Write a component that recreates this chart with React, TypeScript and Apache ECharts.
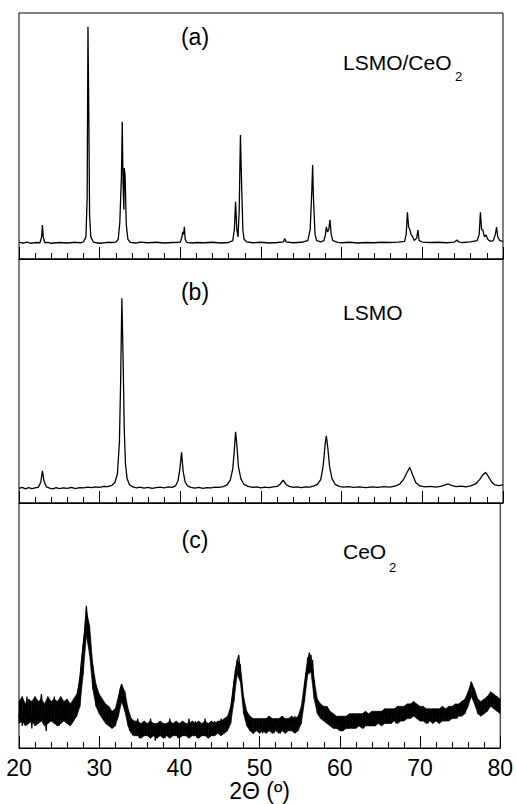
import React, { useEffect, useRef } from "react";
import * as echarts from "echarts";

// Panel (a) LSMO/CeO2 : [2θ, intensity]
const patternA: [number, number][] = [
  [20, 6.8], [20.5, 6.5], [21, 6.9], [21.5, 6.4], [22, 6.7], [22.6, 6.6], [22.8, 9], [22.9, 13.8], [23.0, 9], [23.2, 6.6],
  [23.6, 6.8], [24, 6.4], [25, 6.7], [26, 6.5], [27, 6.8], [27.6, 6.6], [28.0, 7], [28.3, 9], [28.45, 25], [28.55, 94.4],
  [28.65, 60], [28.75, 18], [28.9, 9], [29.2, 7], [29.6, 6.6], [30, 6.4], [31, 6.8], [31.5, 6.7], [32, 6.9], [32.3, 8],
  [32.5, 15], [32.7, 34], [32.8, 55.8], [32.9, 30], [33.0, 20], [33.05, 37], [33.15, 34], [33.3, 14], [33.5, 8], [33.8, 6.8],
  [34.5, 6.5], [35, 6.9], [36, 6.6], [37, 6.8], [38, 6.5], [39, 6.7], [40, 6.8], [40.2, 9], [40.3, 11], [40.4, 10],
  [40.5, 13.1], [40.6, 8], [40.8, 6.8], [41.5, 6.5], [42, 6.7], [43, 6.6], [44, 6.8], [45, 6.5], [46, 6.7], [46.5, 7.5],
  [46.7, 12], [46.85, 23.3], [47.0, 12], [47.15, 9], [47.3, 20], [47.45, 50.4], [47.6, 30], [47.75, 12], [47.9, 8], [48.2, 7],
  [49, 6.6], [50, 6.8], [51, 6.5], [52, 6.7], [52.8, 7], [52.95, 8.3], [53.1, 7], [54, 6.6], [55, 6.8], [55.8, 7.5],
  [56.1, 12], [56.3, 28], [56.4, 38.2], [56.5, 25], [56.7, 10], [56.9, 7.5], [57.4, 7], [57.8, 7.5], [58.0, 10], [58.1, 13.1],
  [58.25, 11], [58.4, 12], [58.55, 15.9], [58.7, 10], [58.9, 7.5], [59.5, 6.8], [60, 6.6], [61, 6.8], [62, 6.5], [63, 6.7],
  [64, 6.6], [65, 6.8], [66, 6.7], [67, 6.9], [67.8, 7.2], [68.0, 10], [68.15, 19], [68.3, 13], [68.45, 12], [68.6, 10],
  [68.8, 9], [69.0, 7.5], [69.3, 8.5], [69.45, 11.8], [69.6, 7.5], [70, 6.9], [71, 6.7], [72, 6.8], [73, 6.6], [74, 6.9],
  [74.3, 7.7], [74.5, 7], [75, 6.7], [76, 7], [76.8, 7.5], [77.05, 10], [77.2, 19], [77.35, 12], [77.5, 11.8], [77.7, 9],
  [77.9, 9.8], [78.1, 8], [78.4, 7.2], [78.8, 7.5], [79.05, 10], [79.2, 13], [79.35, 9], [79.6, 7.5], [80, 7.2],
];

// Panel (b) LSMO : [2θ, intensity]
const patternB: [number, number][] = [
  [20, 6], [20.4, 6.4], [20.8, 5.8], [21.2, 6.3], [21.6, 5.9], [22.0, 6.2], [22.4, 6.5], [22.7, 8.5], [22.9, 13.2], [23.1, 9],
  [23.4, 6.6], [23.8, 6.1], [24.2, 5.8], [24.6, 6.3], [25, 5.9], [25.5, 6.2], [26, 6], [26.5, 6.4], [27, 5.9], [27.5, 6.3],
  [28, 6.2], [28.5, 6.5], [29, 6.3], [29.5, 6.6], [30, 6.4], [30.5, 6.8], [31, 6.7], [31.5, 7.2], [31.9, 8.5], [32.2, 12],
  [32.45, 25], [32.6, 50], [32.75, 83.9], [32.9, 60], [33.05, 30], [33.2, 16], [33.4, 10], [33.7, 7.5], [34.1, 6.6], [34.6, 6.2],
  [35, 6.5], [35.5, 6.1], [36, 6.4], [36.5, 6], [37, 6.3], [37.5, 6.5], [38, 6.2], [38.5, 6.6], [39, 6.4], [39.4, 7],
  [39.7, 9], [39.95, 14], [40.15, 20.8], [40.35, 13], [40.6, 8.5], [40.9, 7], [41.3, 6.4], [41.8, 6.1], [42.3, 6.4], [42.8, 6],
  [43.3, 6.3], [43.8, 6.2], [44.3, 6.5], [44.8, 6.4], [45.3, 6.7], [45.8, 7.4], [46.2, 9.5], [46.5, 14], [46.7, 22], [46.85, 29.2],
  [47.0, 24], [47.2, 15], [47.5, 10], [47.9, 7.6], [48.4, 6.8], [49, 6.4], [49.5, 6.6], [50, 6.2], [50.5, 6.5], [51, 6.3],
  [51.5, 6.6], [52, 6.8], [52.4, 7.8], [52.75, 9.4], [53.1, 7.6], [53.5, 6.8], [54, 6.4], [54.5, 6.6], [55, 6.3], [55.5, 6.6],
  [56, 6.5], [56.5, 6.9], [57, 7.6], [57.4, 9.6], [57.7, 15], [57.95, 24], [58.1, 27.5], [58.3, 22], [58.5, 15], [58.8, 10],
  [59.2, 7.6], [59.7, 6.8], [60.2, 6.5], [60.8, 6.7], [61.5, 6.4], [62.2, 6.6], [63, 6.3], [63.8, 6.6], [64.5, 6.4], [65.2, 6.7],
  [66, 6.5], [66.7, 7], [67.2, 7.8], [67.7, 9.8], [68.1, 12.5], [68.45, 14.6], [68.8, 11.5], [69.2, 8.3], [69.7, 7], [70.3, 6.6],
  [71, 6.8], [71.7, 6.5], [72.4, 6.9], [72.9, 7.5], [73.2, 7.8], [73.6, 7.2], [74.2, 6.7], [74.8, 6.9], [75.4, 6.6], [76, 7],
  [76.6, 7.8], [77.1, 9.6], [77.5, 11.5], [77.85, 12.6], [78.2, 10.8], [78.6, 8.5], [79, 7.4], [79.5, 7.1], [80, 7.4],
];

// Panel (c) CeO2 : noisy trace, intensities from 20° to 80° every 0.2°
const cStart = 20;
const cStep = 0.2;
const cIntensity: number[] = [
  12, 19, 9, 17, 14, 21, 11, 16, 8, 18,
  13, 20, 10, 17, 22, 12, 15, 7, 19, 14,
  18, 11, 21, 13, 16, 9, 20, 12, 17, 14,
  19, 11, 16, 10, 18, 13, 18, 24, 29, 36,
  42, 48, 58, 49, 46, 37, 33, 26, 25, 20,
  22, 17, 19, 14, 17, 12, 15, 10, 14, 9,
  15, 12, 20, 24, 26, 22, 19, 14, 12, 7,
  11, 5, 10, 6, 12, 4, 9, 7, 11, 5,
  9, 6, 12, 5, 10, 3, 9, 7, 11, 5,
  8, 4, 10, 6, 12, 5, 9, 6, 11, 4,
  9, 6, 11, 5, 10, 7, 12, 5, 9, 6,
  11, 4, 10, 7, 9, 5, 12, 6, 10, 7,
  9, 5, 11, 7, 10, 6, 12, 8, 11, 9,
  13, 10, 16, 21, 27, 32, 35, 38, 31, 25,
  18, 15, 11, 13, 8, 11, 6, 10, 7, 12,
  8, 11, 6, 12, 9, 7, 13, 8, 10, 6,
  12, 8, 11, 6, 13, 9, 10, 7, 12, 8,
  11, 7, 13, 9, 12, 10, 14, 18, 24, 30,
  34, 39, 32, 36, 26, 21, 18, 15, 17, 14,
  17, 12, 16, 11, 14, 10, 13, 9, 12, 8,
  12, 7, 11, 9, 13, 8, 12, 10, 14, 9,
  13, 9, 14, 10, 12, 8, 14, 10, 13, 11,
  14, 9, 13, 11, 15, 10, 14, 12, 16, 10,
  14, 11, 16, 12, 15, 10, 17, 12, 15, 13,
  17, 12, 16, 14, 18, 13, 19, 14, 17, 12,
  15, 11, 16, 12, 14, 10, 15, 11, 16, 12,
  15, 11, 14, 12, 16, 11, 15, 13, 16, 12,
  15, 13, 17, 12, 16, 14, 18, 15, 19, 17,
  21, 24, 27, 23, 20, 18, 16, 19, 15, 17,
  16, 19, 21, 18, 22, 20, 19, 21, 17, 18, 16,
];

// Panel (c) dense noise band: lower / upper edge every 0.4°
const bandStart = 20;
const bandStep = 0.4;
const cBandLow: number[] = [
  10, 11, 9, 10, 11, 9, 10, 11, 9, 10,
  11, 10, 9, 10, 11, 10, 9, 11, 13, 17,
  30, 46, 38, 24, 17, 14, 12, 10, 9, 8,
  9, 13, 19, 15, 9, 6, 5, 5, 4, 5,
  5, 4, 5, 4, 5, 4, 5, 4, 5, 5,
  4, 5, 5, 4, 5, 5, 4, 5, 5, 4,
  5, 5, 6, 5, 6, 7, 10, 19, 30, 27,
  14, 9, 7, 6, 7, 6, 7, 6, 7, 6,
  7, 6, 7, 6, 7, 7, 6, 7, 10, 19,
  30, 31, 20, 14, 12, 11, 10, 9, 8, 8,
  7, 7, 8, 8, 8, 8, 9, 8, 9, 9,
  9, 9, 10, 9, 10, 10, 10, 11, 10, 11,
  11, 12, 12, 13, 12, 11, 11, 10, 11, 10,
  11, 10, 11, 11, 11, 12, 12, 13, 13, 14,
  17, 21, 18, 14, 13, 14, 15, 17, 16, 15, 14,
];
const cBandHigh: number[] = [
  19, 21, 18, 20, 19, 21, 19, 20, 18, 21,
  19, 20, 19, 21, 19, 20, 18, 20, 22, 28,
  42, 56, 50, 34, 26, 22, 20, 18, 17, 15,
  16, 21, 26, 23, 16, 12, 11, 11, 10, 11,
  10, 11, 10, 10, 11, 10, 10, 11, 10, 11,
  10, 11, 10, 10, 11, 10, 11, 10, 11, 10,
  11, 10, 11, 11, 12, 13, 17, 27, 36, 34,
  21, 15, 13, 12, 12, 12, 12, 12, 13, 12,
  12, 12, 13, 12, 12, 13, 12, 13, 17, 27,
  37, 38, 28, 20, 18, 17, 17, 15, 14, 13,
  13, 13, 13, 14, 14, 14, 14, 14, 15, 14,
  15, 15, 15, 15, 16, 16, 16, 16, 17, 17,
  17, 18, 18, 19, 18, 17, 17, 16, 16, 16,
  16, 16, 17, 16, 17, 17, 18, 18, 19, 20,
  23, 27, 24, 20, 19, 20, 21, 23, 22, 21, 20,
];

const xTicks = ["20", "30", "40", "50", "60", "70", "80"];
const panelLabels = ["(a)", "(b)", "(c)"];
const sampleNames = ["LSMO/CeO", "LSMO", "CeO"];
const sampleSubs = ["2", "", "2"];
const xTitle = "2Θ (º)";

const FONT = "'Liberation Sans', Arial, Helvetica, sans-serif";

export default function App() {
  const ref = useRef<HTMLDivElement>(null);

  useEffect(() => {
    if (!ref.current) return;
    const chart = echarts.init(ref.current, undefined, { renderer: "svg" });

    const patternC: [number, number][] = cIntensity.map((v, i) => [
      Number((cStart + i * cStep).toFixed(1)),
      v,
    ]);
    const bandX = cBandLow.map((_, j) => Number((bandStart + j * bandStep).toFixed(1)));
    // each segment: [x0, low0, high0, x1, low1, high1]
    const bandSegments: number[][] = [];
    for (let j = 0; j < bandX.length - 1; j++) {
      bandSegments.push([
        bandX[j], cBandLow[j], cBandHigh[j],
        bandX[j + 1], cBandLow[j + 1], cBandHigh[j + 1],
      ]);
    }

    const tops = [13, 259, 503];
    const heights = [246, 244, 245];

    const grids = tops.map((t, i) => ({
      left: 19,
      right: 13,
      top: t,
      height: heights[i],
      show: true,
      borderColor: "#000",
      borderWidth: 1,
      backgroundColor: "transparent",
    }));

    const xAxes = [0, 1, 2].map((i) => ({
      type: "value",
      gridIndex: i,
      min: Number(xTicks[0]),
      max: Number(xTicks[xTicks.length - 1]),
      interval: 10,
      axisLine: { show: true, lineStyle: { color: "#000", width: 1 } },
      axisTick: { show: true, inside: true, length: 12, lineStyle: { color: "#000", width: 1 } },
      minorTick: { show: true, splitNumber: 5, length: 6, lineStyle: { color: "#000", width: 1 } },
      splitLine: { show: false },
      minorSplitLine: { show: false },
      axisLabel: {
        show: i === 2,
        color: "#000",
        fontSize: 23,
        fontFamily: FONT,
        margin: 8,
        formatter: (v: number) => String(v),
      },
      name: i === 2 ? xTitle : "",
      nameLocation: "middle",
      nameGap: 31,
      nameTextStyle: { color: "#000", fontSize: 23, fontFamily: FONT },
    }));

    const yAxes = [0, 1, 2].map((i) => ({
      type: "value",
      gridIndex: i,
      min: 0,
      max: 100,
      show: false,
    }));

    const series: any[] = [
      {
        type: "line",
        xAxisIndex: 0,
        yAxisIndex: 0,
        data: patternA,
        showSymbol: false,
        symbol: "none",
        lineStyle: { color: "#000", width: 1.3 },
        silent: true,
      },
      {
        type: "line",
        xAxisIndex: 1,
        yAxisIndex: 1,
        data: patternB,
        showSymbol: false,
        symbol: "none",
        lineStyle: { color: "#000", width: 1.3 },
        silent: true,
      },
      {
        type: "custom",
        xAxisIndex: 2,
        yAxisIndex: 2,
        data: bandSegments,
        encode: { x: [0, 3], y: [1, 2, 4, 5] },
        silent: true,
        renderItem: (_params: any, api: any) => {
          const p1 = api.coord([api.value(0), api.value(1)]);
          const p2 = api.coord([api.value(0), api.value(2)]);
          const p3 = api.coord([api.value(3), api.value(5)]);
          const p4 = api.coord([api.value(3), api.value(4)]);
          return {
            type: "polygon",
            shape: { points: [p1, p2, p3, p4] },
            style: { fill: "#000", stroke: "#000", lineWidth: 0.6 },
          };
        },
      },
      {
        type: "line",
        xAxisIndex: 2,
        yAxisIndex: 2,
        data: patternC,
        showSymbol: false,
        symbol: "none",
        lineStyle: { color: "#000", width: 1.2 },
        silent: true,
      },
    ];

    const labelY = [37, 292, 540];
    const nameY = [62, 312, 551];
    const subY = [76, 0, 567];
    const subX = [455, 0, 389];

    const graphics: any[] = [];
    for (let i = 0; i < 3; i++) {
      graphics.push({
        type: "text",
        x: 195,
        y: labelY[i],
        style: {
          text: panelLabels[i],
          fontSize: 23,
          fontFamily: FONT,
          fill: "#000",
          textAlign: "center",
          textVerticalAlign: "middle",
        },
      });
      graphics.push({
        type: "text",
        x: 343,
        y: nameY[i],
        style: {
          text: sampleNames[i],
          fontSize: 21,
          fontFamily: FONT,
          fill: "#000",
          textAlign: "left",
          textVerticalAlign: "middle",
        },
      });
      if (sampleSubs[i]) {
        graphics.push({
          type: "text",
          x: subX[i],
          y: subY[i],
          style: {
            text: sampleSubs[i],
            fontSize: 13,
            fontFamily: FONT,
            fill: "#000",
            textAlign: "left",
            textVerticalAlign: "middle",
          },
        });
      }
    }

    chart.setOption({
      animation: false,
      backgroundColor: "#fff",
      grid: grids,
      xAxis: xAxes,
      yAxis: yAxes,
      series,
      graphic: graphics,
    });

    return () => chart.dispose();
  }, []);

  return (
    <div
      ref={ref}
      style={{ position: "fixed", left: 0, top: 0, width: 516, height: 804 }}
    />
  );
}
